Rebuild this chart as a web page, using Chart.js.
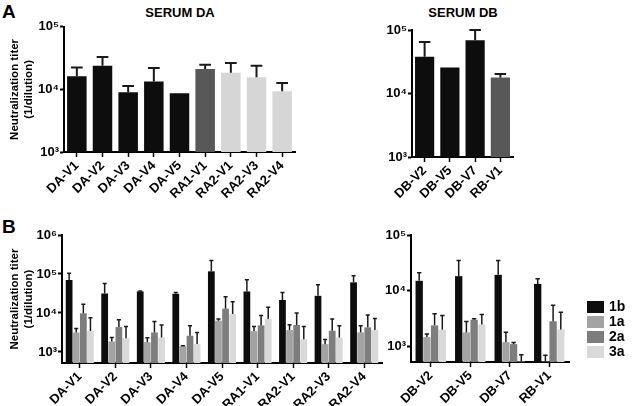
<!doctype html>
<html lang="en">
<head>
<meta charset="utf-8">
<title>Neutralization titer</title>
<script src="https://cdn.jsdelivr.net/npm/chart.js"></script>
<style>
  body { margin: 0; background: #fff; font-family: "Liberation Sans", Arial, sans-serif; color: #000; }
  #fig { position: relative; width: 634px; height: 406px; overflow: hidden; }
  #fig canvas, #fig .txt { position: absolute; }
  .panel { font-size: 19px; font-weight: bold; }
  .head { font-size: 13px; font-weight: bold; transform: translateX(-50%); white-space: nowrap; }
  .legend { position: absolute; left: 587px; top: 299px; font-size: 14px; font-weight: bold; }
  .legend div { height: 15px; line-height: 13px; display: flex; align-items: center; }
  .legend span.box { display: inline-block; width: 17px; height: 12px; margin-right: 5px; }
</style>
</head>
<body>
<div id="fig">
  <div class="txt panel" style="left:2px;top:1px">A</div>
  <div class="txt panel" style="left:2px;top:216px">B</div>
  <div class="txt head" style="left:180px;top:5px">SERUM DA</div>
  <div class="txt head" style="left:463px;top:5px">SERUM DB</div>

  <canvas id="chartA1" width="300" height="192" style="left:0;top:18px"></canvas>
  <canvas id="chartA2" width="150" height="192" style="left:370px;top:18px"></canvas>
  <canvas id="chartB1" width="392" height="184" style="left:0;top:222px"></canvas>
  <canvas id="chartB2" width="210" height="184" style="left:370px;top:222px"></canvas>
  <div class="legend" id="legend"></div>
</div>

<script>
// ---- data ----
const sitesDA = ['DA-V1', 'DA-V2', 'DA-V3', 'DA-V4', 'DA-V5', 'RA1-V1', 'RA2-V1', 'RA2-V3', 'RA2-V4'];
const sitesDB = ['DB-V2', 'DB-V5', 'DB-V7', 'RB-V1'];
const genotypes = ['1b', '1a', '2a', '3a'];

// panel A: mean titer and top of error bar
const titerDA    = [16200, 23800, 8980, 13400, 8650, 21100, 18500, 15600, 9300];
const titerDAerr = [22400, 33000, 11300, 21900, null, 24700, 26500, 23800, 12700];
const titerDB    = [37900, 25700, 68700, 17900];
const titerDBerr = [64600, null, 100000, 20200];

// panel B, serum DA, per genotype
const daB1b    = [70000, 31600, 35600, 31000, 117000, 35600, 21500, 27500, 61000];
const daB1bErr = [104000, 57300, 36500, 33500, 221000, 71300, 33700, 53000, 90600];
const daB1a    = [3160, 1850, 1780, 1400, 6330, 3420, 3640, 1580, 3160];
const daB1aErr = [4000, 2340, 2300, 1450, 7000, 4520, 4960, 2090, 4700];
const daB2a    = [9800, 4350, 3160, 2600, 12900, 4790, 4900, 3490, 4270];
const daB2aErr = [16800, 6700, 6080, 4700, 25900, 8560, 10000, 7000, 8850];
const daB3a    = [3420, 2250, 2340, 1590, 9430, 7000, 2130, 2340, 3640];
const daB3aErr = [7570, 4520, 4900, 3160, 19300, 14000, 4520, 4700, 7200];

// panel B, serum DB, per genotype
const dbB1b    = [15000, 18200, 19200, 13200];
const dbB1bErr = [20900, 34800, 34800, 16400];
const dbB1a    = [1460, 1770, 1180, 530];
const dbB1aErr = [1660, 2790, 1780, 690];
const dbB2a    = [2370, 2990, 1090, 2810];
const dbB2aErr = [3840, 3120, 1160, 5450];
const dbB3a    = [1970, 2460, 530, 2000];
const dbB3aErr = [3570, 3720, 700, 4070];

// axis ticks
const ticksA = [1e3, 1e4, 1e5];
const ticksB1 = [1e3, 1e4, 1e5, 1e6];
const ticksB2 = [1e3, 1e4, 1e5];
const tickText = { 1000: '10³', 10000: '10⁴', 100000: '10⁵', 1000000: '10⁶' };
const yTitle = ['Neutralization titer', '(1/dilution)'];

// ---- styles ----
const FONT = '"Liberation Sans", Arial, sans-serif';
const genoColors = { '1b': '#0d0d0d', '1a': '#a3a3a3', '2a': '#7d7d7d', '3a': '#d9d9d9' };
function siteColor(s) {
  if (s.startsWith('RA1') || s.startsWith('RB')) return '#585858';
  if (s.startsWith('RA2')) return '#d6d6d6';
  return '#0d0d0d';
}

Chart.defaults.font.family = FONT;
Chart.defaults.color = '#000';

// draws the upper error bar of every bar from the value in errTop
const errorBars = {
  id: 'errorBars',
  afterDatasetsDraw(chart, args, opts) {
    const ctx = chart.ctx;
    const y = chart.scales.y;
    chart.data.datasets.forEach((ds, i) => {
      if (!ds.errTop) return;
      chart.getDatasetMeta(i).data.forEach((bar, j) => {
        const top = ds.errTop[j];
        if (top == null) return;
        const yTop = y.getPixelForValue(top);
        const yBar = Math.min(bar.y, bar.base);
        const half = bar.width * opts.cap / 2;
        ctx.save();
        ctx.strokeStyle = '#1a1a1a';
        ctx.lineWidth = opts.width;
        ctx.beginPath();
        ctx.moveTo(bar.x, yBar);
        ctx.lineTo(bar.x, yTop);
        ctx.moveTo(bar.x - half, yTop);
        ctx.lineTo(bar.x + half, yTop);
        ctx.stroke();
        ctx.restore();
      });
    });
  }
};

function yAxis(min, max, ticks, width, title) {
  return {
    type: 'logarithmic',
    min: min,
    max: max,
    border: { color: '#000', width: 2 },
    grid: { drawOnChartArea: false, color: '#000', tickLength: 4, tickWidth: 2 },
    ticks: {
      color: '#000', padding: 1, autoSkip: false,
      font: { family: FONT, weight: 'bold', size: 13 },
      callback: v => tickText[v] || ''
    },
    afterBuildTicks: s => { s.ticks = ticks.map(v => ({ value: v })); },
    afterFit: s => { s.width = width; },
    title: title ? {
      display: true, text: title, color: '#000', padding: { top: 8, bottom: 4 },
      font: { family: FONT, weight: 'bold', size: 11.5, lineHeight: 1.2 }
    } : { display: false }
  };
}

function xAxis(height, size) {
  return {
    type: 'category',
    border: { color: '#000', width: 2 },
    grid: { drawOnChartArea: false, offset: false, color: '#000', tickLength: 5, tickWidth: 1.5 },
    ticks: {
      color: '#000', minRotation: 45, maxRotation: 45, autoSkip: false, padding: 1,
      font: { family: FONT, weight: 'bold', size: size }
    },
    afterFit: s => { s.height = height; }
  };
}

function makeChart(id, labels, datasets, cfg) {
  return new Chart(document.getElementById(id), {
    type: 'bar',
    data: { labels: labels, datasets: datasets },
    options: {
      responsive: false,
      animation: false,
      devicePixelRatio: 1,
      layout: { padding: cfg.padding },
      datasets: { bar: { barPercentage: cfg.barPct, categoryPercentage: cfg.catPct } },
      scales: {
        x: xAxis(cfg.xHeight, cfg.xFont),
        y: yAxis(cfg.min, cfg.max, cfg.ticks, cfg.yWidth, cfg.title)
      },
      plugins: {
        legend: { display: false },
        tooltip: { enabled: false },
        errorBars: { cap: cfg.cap, width: cfg.errWidth }
      }
    },
    plugins: [errorBars]
  });
}

// panel A
makeChart('chartA1', sitesDA, [{
  data: titerDA, errTop: titerDAerr,
  backgroundColor: sitesDA.map(siteColor)
}], { padding: { top: 7, right: 5, left: 0, bottom: 0 }, barPct: 0.76, catPct: 1,
      xHeight: 58, xFont: 13, min: 1e3, max: 1e5, ticks: ticksA, yWidth: 64, title: yTitle,
      cap: 0.6, errWidth: 2 });

makeChart('chartA2', sitesDB, [{
  data: titerDB, errTop: titerDBerr,
  backgroundColor: sitesDB.map(siteColor)
}], { padding: { top: 12, right: 7, left: 0, bottom: 0 }, barPct: 0.76, catPct: 1,
      xHeight: 53, xFont: 13, min: 1e3, max: 1e5, ticks: ticksA, yWidth: 42, title: null,
      cap: 0.6, errWidth: 2 });

// panel B
const seriesDA = [[daB1b, daB1bErr], [daB1a, daB1aErr], [daB2a, daB2aErr], [daB3a, daB3aErr]];
const seriesDB = [[dbB1b, dbB1bErr], [dbB1a, dbB1aErr], [dbB2a, dbB2aErr], [dbB3a, dbB3aErr]];

makeChart('chartB1', sitesDA, seriesDA.map((s, i) => ({
  label: genotypes[i], data: s[0], errTop: s[1], backgroundColor: genoColors[genotypes[i]]
})), { padding: { top: 13, right: 10, left: 0, bottom: 0 }, barPct: 0.95, catPct: 0.8,
      xHeight: 43, xFont: 13, min: 520, max: 1e6, ticks: ticksB1, yWidth: 62, title: yTitle,
      cap: 0.6, errWidth: 1.5 });

makeChart('chartB2', sitesDB, seriesDB.map((s, i) => ({
  label: genotypes[i], data: s[0], errTop: s[1], backgroundColor: genoColors[genotypes[i]]
})), { padding: { top: 13, right: 11, left: 0, bottom: 0 }, barPct: 0.95, catPct: 0.78,
      xHeight: 44, xFont: 13, min: 520, max: 1e5, ticks: ticksB2, yWidth: 41, title: null,
      cap: 0.6, errWidth: 1.5 });

// legend for panel B
document.getElementById('legend').innerHTML = genotypes.map(g =>
  '<div><span class="box" style="background:' + genoColors[g] + '"></span>' + g + '</div>'
).join('');
</script>
</body>
</html>
